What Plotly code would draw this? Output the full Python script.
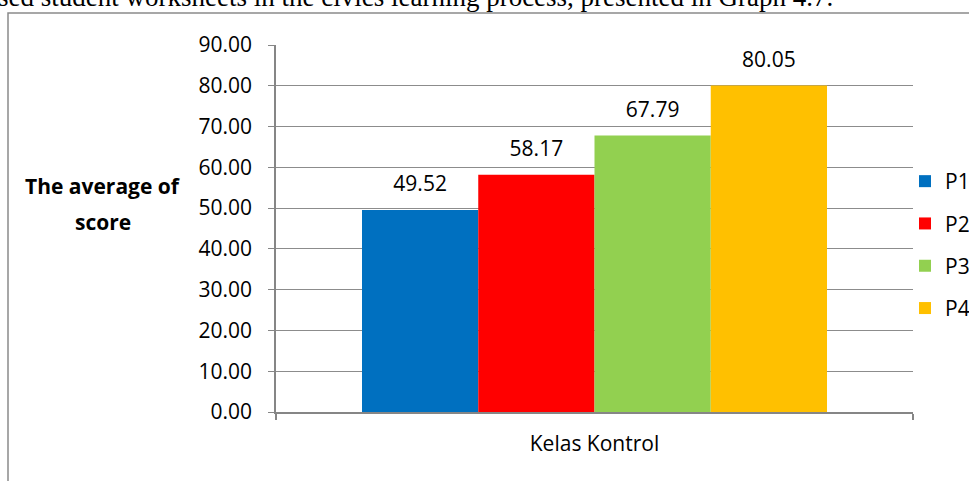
import plotly.graph_objects as go

categories = ["Kelas Kontrol"]
series_names = ["P1", "P2", "P3", "P4"]
series_values = [49.52, 58.17, 67.79, 80.05]
series_colors = ["#0070C0", "#FF0000", "#92D050", "#FFC000"]
y_ticks = [0, 10, 20, 30, 40, 50, 60, 70, 80, 90]
y_title_lines = ["The average of", "score"]
caption = "sed student worksheets in the civics learning process, presented in Graph 4.7."

FONT = "Open Sans"
W, H = 969, 481
L, R, T, B = 276, 56, 45, 69
pw, ph = W - L - R, H - T - B

def px_x(px):
    return (px - L) / pw

def px_y(py):
    return (H - B - py) / ph

fig = go.Figure()
for name, val, col in zip(series_names, series_values, series_colors):
    fig.add_trace(go.Bar(
        x=categories, y=[val], name=name, marker_color=col,
        marker_line_width=0, legendgroup=name, offsetgroup=name,
    ))
for name, val in zip(series_names, series_values):
    fig.add_trace(go.Scatter(
        x=categories, y=[val], mode="markers+text", offsetgroup=name,
        marker=dict(size=20, opacity=0), showlegend=False, hoverinfo="skip",
        text=[f"{val:.2f}"], textposition="top center", cliponaxis=False,
        textfont=dict(family=FONT, size=21, color="#000000"),
    ))

fig.update_layout(
    width=W, height=H,
    margin=dict(l=L, r=R, t=T, b=B, autoexpand=False),
    paper_bgcolor="white", plot_bgcolor="white",
    barmode="group", bargap=0.27, bargroupgap=0,
    scattermode="group", scattergap=0.27,
    showlegend=True,
    legend=dict(x=px_x(905), y=px_y(161), xanchor="left", yanchor="top",
                font=dict(family=FONT, size=21, color="#000000"),
                tracegroupgap=12, itemwidth=30, bgcolor="rgba(0,0,0,0)"),
    font=dict(family=FONT, color="#000000"),
    xaxis=dict(type="category", showline=True, linecolor="#868686", linewidth=2,
               ticks="outside", tickson="boundaries", ticklen=6, tickcolor="#868686",
               tickwidth=2, ticklabelstandoff=12,
               tickfont=dict(family=FONT, size=21, color="#000000"),
               showgrid=False),
    yaxis=dict(range=[0, 90], tickvals=y_ticks, tickformat=".2f",
               showline=True, linecolor="#868686", linewidth=1.5,
               ticks="outside", ticklen=6, tickcolor="#868686",
               ticklabelstandoff=12,
               showgrid=True, gridcolor="#8c8c8c", gridwidth=1,
               zeroline=False,
               tickfont=dict(family=FONT, size=21, color="#000000")),
)

for line, ypx in zip(y_title_lines, [186, 222]):
    fig.add_annotation(xref="paper", yref="paper", x=px_x(103), y=px_y(ypx),
                       xanchor="center", yanchor="middle",
                       text=f"<b>{line}</b>", showarrow=False, align="center",
                       font=dict(family=FONT, size=21, color="#000000"))

fig.add_annotation(xref="paper", yref="paper", x=px_x(-4), y=px_y(14),
                   xanchor="left", yanchor="bottom",
                   text=caption, showarrow=False,
                   font=dict(family="Liberation Serif", size=27, color="#000000"))

fig.add_shape(type="rect", xref="paper", yref="paper",
              x0=px_x(8), x1=px_x(1000), y0=px_y(520), y1=px_y(13),
              line=dict(color="#8a8a8a", width=1.5), fillcolor="rgba(0,0,0,0)",
              layer="below")

fig.write_html("out.html", config={"displayModeBar": False},
               post_script="document.body.style.margin='0';")
